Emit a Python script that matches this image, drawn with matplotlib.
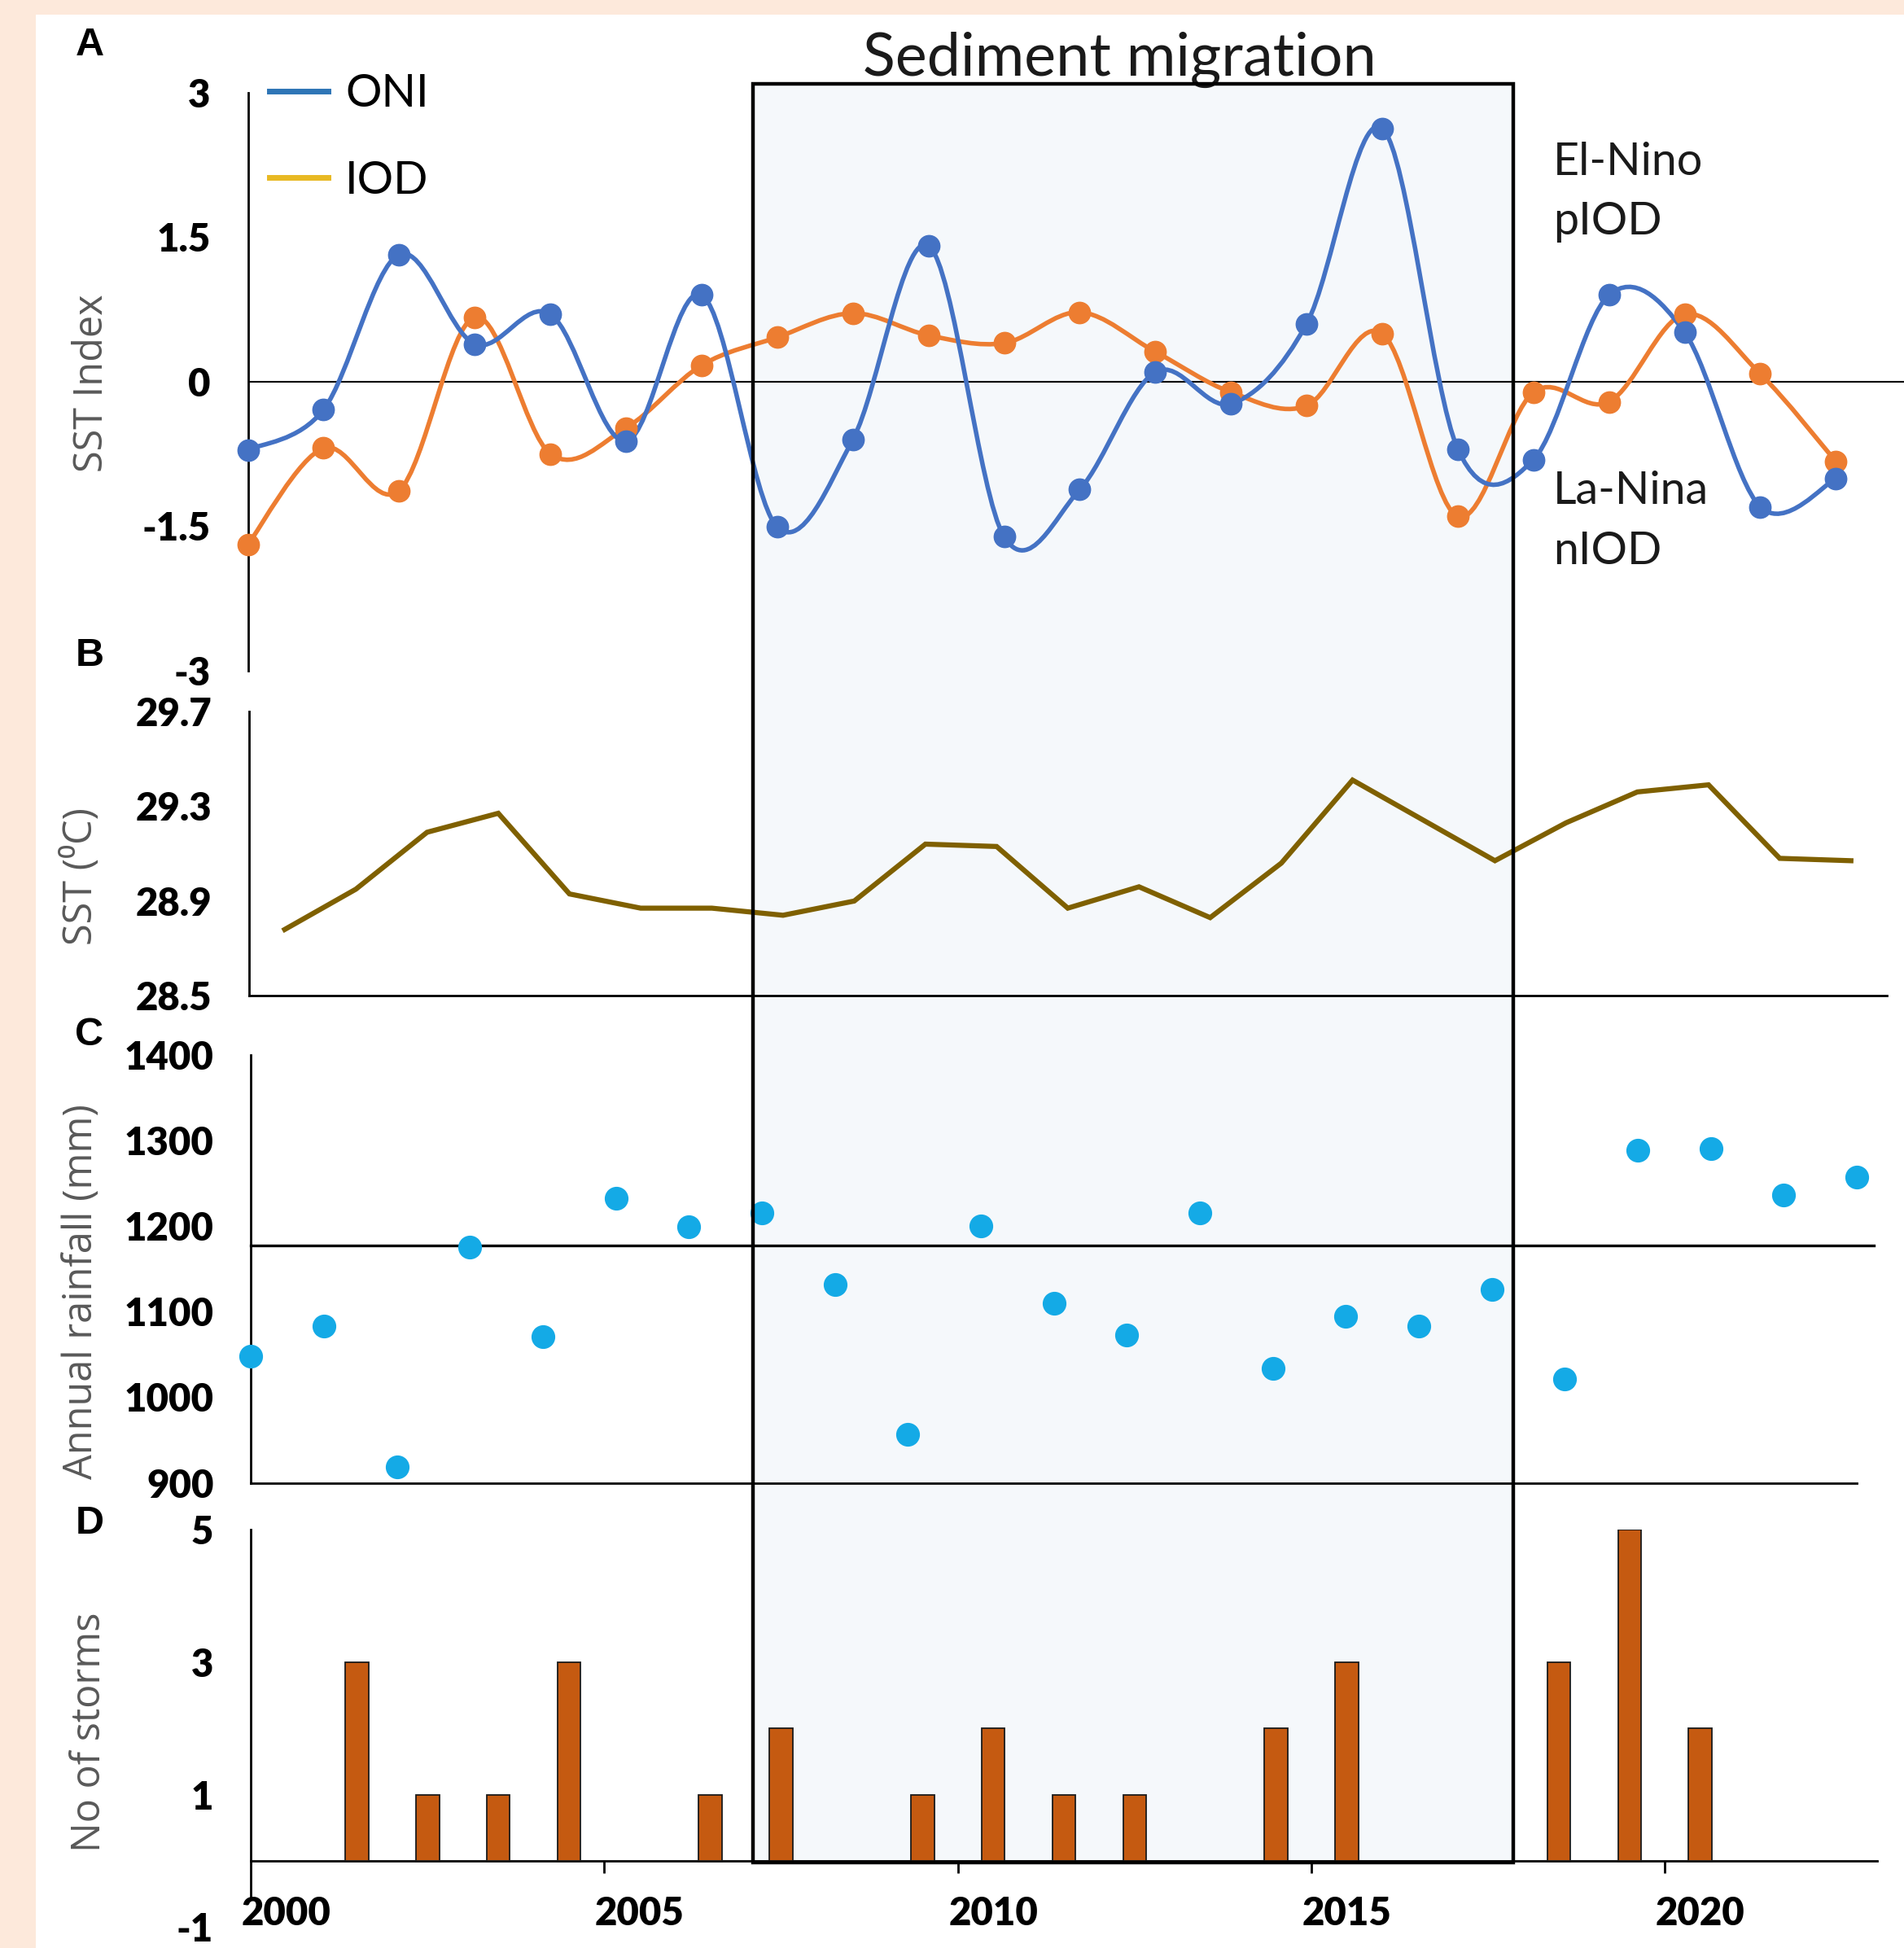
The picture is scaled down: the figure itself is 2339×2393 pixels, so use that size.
import numpy as np
import matplotlib
matplotlib.use("Agg")
import matplotlib.pyplot as plt
from matplotlib import font_manager as fm
from matplotlib.path import Path
from matplotlib.patches import PathPatch, Rectangle
from matplotlib.lines import Line2D
import matplotlib.transforms as mtransforms

# ---------------- data ----------------
years_idx = np.arange(2000, 2022)          # panel A (ONI / IOD)
oni = [-0.71, -0.29, 1.32, 0.39, 0.70, -0.62, 0.90, -1.51, -0.60, 1.41, -1.61,
       -1.12, 0.10, -0.23, 0.60, 2.63, -0.70, -0.81, 0.90, 0.51, -1.30, -1.01]
iod = [-1.69, -0.69, -1.13, 0.67, -0.75, -0.48, 0.17, 0.46, 0.71, 0.48, 0.40,
       0.72, 0.31, -0.11, -0.25, 0.50, -1.40, -0.11, -0.21, 0.70, 0.08, -0.83]

years_full = np.arange(2000, 2023)         # panels B and C
sst = [28.78, 28.95, 29.19, 29.27, 28.93, 28.87, 28.87, 28.84, 28.90, 29.14, 29.13,
       28.87, 28.96, 28.83, 29.06, 29.41, 29.24, 29.07, 29.23, 29.36, 29.39, 29.08, 29.07]
rain = [1048, 1083, 919, 1175, 1071, 1232, 1199, 1215, 1132, 957, 1200, 1110,
        1073, 1215, 1034, 1094, 1083, 1126, 1021, 1288, 1290, 1236, 1257]
rain_ref = 1177

storm_years = np.array([2001, 2002, 2003, 2004, 2006, 2007, 2009, 2010, 2011, 2012,
                        2014, 2015, 2018, 2019, 2020])
storms = [3, 1, 1, 3, 1, 2, 1, 2, 1, 1, 2, 3, 3, 5, 2]

migration = (2006.6, 2017.35)

ticks_A = [3, 1.5, 0, -1.5, -3]
ticks_B = [29.7, 29.3, 28.9, 28.5]
ticks_C = [1400, 1300, 1200, 1100, 1000, 900]
ticks_D = [5, 3, 1, -1]
xlabel_years = [2000, 2005, 2010, 2015, 2020]

# ---------------- style ----------------
W, H, DPI = 2339, 2393, 100
LATO = ["Lato", "DejaVu Sans"]
OPEN = ["Open Sans", "DejaVu Sans"]
plt.rcParams["font.family"] = LATO

_names = {f.name for f in fm.fontManager.ttflist}
if "Liberation Sans Narrow" in _names:
    TICKFONT, TSIZE, TWEIGHT = ["Liberation Sans Narrow", "DejaVu Sans"], 39, "bold"
else:
    TICKFONT, TSIZE, TWEIGHT = LATO, 34, "heavy"

C_ONI = "#4472C4"
C_IOD = "#ED7D31"
C_SST = "#7F6000"
C_RAIN = "#14AAE6"
C_BAR = "#C55A11"
GRAY = "#595959"

fig = plt.figure(figsize=(W / DPI, H / DPI), dpi=DPI, facecolor="#FDE9DB")
fig.add_artist(Rectangle((44 / W, 0), 1 - 44 / W, 1 - 18 / H, transform=fig.transFigure,
                         facecolor="white", edgecolor="none", zorder=-3))


def add_ax(x0, x1, ytop, ybot):
    ax = fig.add_axes([x0 / W, 1 - ybot / H, (x1 - x0) / W, (ybot - ytop) / H])
    ax.patch.set_visible(False)
    for s in ("top", "right"):
        ax.spines[s].set_visible(False)
    ax.spines["left"].set_linewidth(2.0)
    ax.spines["bottom"].set_linewidth(2.0)
    ax.tick_params(axis="y", length=0, pad=33)
    return ax


def ylabels(ax, ticks, fmt):
    ax.set_yticks(ticks, [fmt(t) for t in ticks], fontsize=TSIZE, fontweight=TWEIGHT,
                  family=TICKFONT)


def smooth_path(x, y):
    pts = np.column_stack([x, y]).astype(float)
    n = len(pts)
    verts = [pts[0]]
    codes = [Path.MOVETO]
    for i in range(n - 1):
        p0 = pts[i - 1] if i > 0 else pts[i]
        p1, p2 = pts[i], pts[i + 1]
        p3 = pts[i + 2] if i + 2 < n else pts[i + 1]
        verts += [p1 + (p2 - p0) / 6.0, p2 - (p3 - p1) / 6.0, p2]
        codes += [Path.CURVE4] * 3
    return Path(verts, codes)


# ---------------- panel A ----------------
axA = add_ax(304.6, 2339, 113.8, 823.8)
axA.set_xlim(0, 21.9)
axA.set_ylim(-3, 3)
axA.spines["bottom"].set_visible(False)
axA.set_xticks([])
ylabels(axA, ticks_A, lambda t: f"{t:g}")
axA.axhline(0, color="black", lw=1.5, zorder=1)
xa = years_idx - 2000
for vals, col in ((iod, C_IOD), (oni, C_ONI)):
    axA.add_patch(PathPatch(smooth_path(xa, vals), facecolor="none", edgecolor=col,
                            lw=4.0, zorder=3, clip_on=False))
    axA.plot(xa, vals, "o", color=col, ms=19, zorder=4, clip_on=False)
handles = [Line2D([], [], color="#2E75B6", lw=5), Line2D([], [], color="#E8B923", lw=5)]
axA.legend(handles, ["ONI", "IOD"], loc="center left",
           bbox_to_anchor=(331 / W, 1 - 169 / H), bbox_transform=fig.transFigure,
           frameon=False, fontsize=40, handlelength=1.3, handletextpad=0.38,
           labelspacing=1.0, borderpad=0, borderaxespad=0)

# ---------------- panel B ----------------
axB = add_ax(306, 2317.5, 873.8, 1223.4)
axB.set_xlim(-0.5, 22.5)
axB.set_ylim(28.5, 29.7)
axB.set_xticks([])
ylabels(axB, ticks_B, lambda t: f"{t:.1f}")
axB.plot(years_full - 2000, sst, color=C_SST, lw=4.5, solid_joinstyle="miter", zorder=3)

# ---------------- panel C ----------------
axC = add_ax(308.4, 2281, 1295.7, 1821.5)
axC.set_xlim(0, 22)
axC.set_ylim(900, 1400)
axC.set_xticks([])
ylabels(axC, ticks_C, lambda t: f"{t:d}")
axC.axhline(rain_ref, xmin=0, xmax=1.0105, color="black", lw=2.4, clip_on=False, zorder=2)
axC.plot(years_full - 2000, rain, "o", color=C_RAIN, ms=20, zorder=3, clip_on=False)

# ---------------- panel D ----------------
axD = add_ax(308, 2306, 1879.4, 2367.4)
axD.set_xlim(-0.5, 22.5)
axD.set_ylim(-1, 5)
ylabels(axD, ticks_D, lambda t: f"{t:d}")
axD.spines["bottom"].set_position(("data", 0))
axD.spines["left"].set_bounds(-0.535, 5)
axD.bar(storm_years - 2000, storms, width=0.33, color=C_BAR, edgecolor="#1a1a1a",
        lw=1.3, zorder=3)
axD.set_xticks([y - 2000 for y in xlabel_years], [str(y) for y in xlabel_years],
               fontsize=TSIZE, fontweight=TWEIGHT, family=TICKFONT)
axD.set_xticks([y - 2000 - 0.5 for y in xlabel_years[1:]], minor=True)
axD.tick_params(axis="x", which="major", length=0, pad=31)
axD.tick_params(axis="x", which="minor", length=11, width=2.0, direction="out")

# ---------------- migration box ----------------
trans = mtransforms.blended_transform_factory(axD.transData, fig.transFigure)
x0, x1 = migration[0] - 2000, migration[1] - 2000
yb, yt = 1 - 2288 / H, 1 - 103 / H
fig.add_artist(Rectangle((x0, yb), x1 - x0, yt - yb, transform=trans,
                         facecolor="#F5F8FB", edgecolor="none", zorder=-2))
fig.add_artist(Rectangle((x0, yb), x1 - x0, yt - yb, transform=trans,
                         facecolor="none", edgecolor="black", lw=3.2, zorder=10))

# ---------------- texts ----------------
fig.text(1375 / W, 1 - 93 / H, "Sediment migration", ha="center", va="baseline",
         fontsize=53, family=LATO, color="#1a1a1a")
for txt, yb_ in (("El-Nino", 215), ("pIOD", 288), ("La-Nina", 619), ("nIOD", 693)):
    fig.text(1908 / W, 1 - yb_ / H, txt, ha="left", va="baseline", fontsize=40,
             family=LATO, color="#1a1a1a")
for txt, yc in (("A", 55), ("B", 806), ("C", 1271), ("D", 1871)):
    fig.text(110 / W, 1 - yc / H, txt, ha="center", va="center", fontsize=35,
             fontweight="bold", family=["Liberation Sans", "DejaVu Sans"])
for txt, xc, yc in (("SST Index", 113, 471), ("SST (\u2070C)", 100, 1076),
                    ("Annual rainfall (mm)", 100, 1587), ("No of storms", 110, 2128)):
    fig.text(xc / W, 1 - yc / H, txt, ha="center", va="center", rotation=90,
             fontsize=35, family=OPEN, color=GRAY)

fig.savefig("out.png", dpi=DPI, facecolor=fig.get_facecolor())
